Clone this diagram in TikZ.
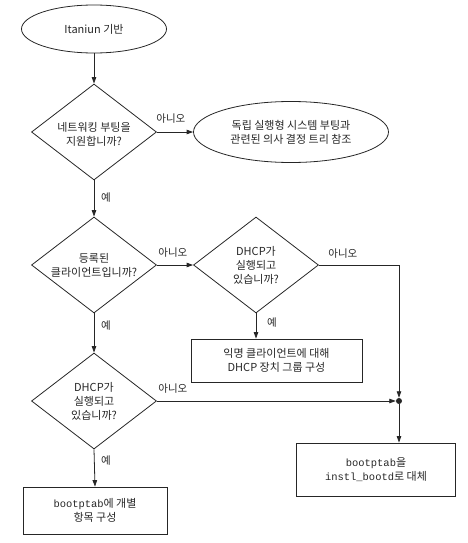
\documentclass[tikz,border=0pt]{standalone}
\usepackage{fontspec}
\setmainfont{Noto Sans CJK KR}
\newfontfamily\codefont[Scale=0.95]{Liberation Mono}
\usetikzlibrary{shapes.geometric,arrows.meta,calc}
\tikzset{
  lc/.style={draw=black!85, line width=0.8pt},
  flow/.style={lc, -{Triangle[length=6.5pt,width=4.5pt]}},
  oval/.style={lc, ellipse, inner sep=0pt, align=center},
  dia/.style={lc, diamond, minimum width=125pt, minimum height=96pt, inner sep=0pt},
  dtext/.style={align=center, inner sep=0pt},
  stepbox/.style={lc, rectangle, inner sep=0pt, align=center},
  lbl/.style={inner sep=0pt, font=\fontsize{10.5}{12}\selectfont},
}
\begin{document}
\begin{tikzpicture}[x=1pt, y=-1pt, font=\fontsize{11}{14}\selectfont, text=black!85]
\useasboundingbox (0,0) rectangle (467,543);

\node[oval, minimum width=145pt, minimum height=48pt] (e1) at (94,29) {Itaniun 기반};
\node[dia] (d1) at (94,132) {};
\node[dtext] (d1t) at (94,134) {네트워킹 부팅을\\지원합니까?};
\node[oval, minimum width=195pt, minimum height=61pt] (e2) at (291,132) {독립 실행형 시스템 부팅과\\관련된 의사 결정 트리 참조};

\node[dia] (d2) at (94,265) {};
\node[dtext] (d2t) at (94,265) {등록된\\클라이언트입니까?};
\node[dia] (d3) at (256,265) {};
\node[dtext] (d3t) at (256,265) {DHCP가\\실행되고\\있습니까?};

\node[stepbox, minimum width=171pt, minimum height=43pt] (b1) at (276.5,360.5) {익명 클라이언트에 대해\\DHCP 장치 그룹 구성};

\node[dia] (d4) at (94,401) {};
\node[dtext] (d4t) at (94,401) {DHCP가\\실행되고\\있습니까?};

\node[circle, fill=black!85, inner sep=0pt, minimum size=6pt] (dot) at (399,401) {};

\node[stepbox, minimum width=159pt, minimum height=53pt] (b3) at (376,469.5) {{\codefont bootptab}을\\{\codefont instl\_bootd}로 대체};
\node[stepbox, minimum width=144pt, minimum height=47pt] (b2) at (95,510.5) {{\codefont bootptab}에 개별\\항목 구성};

% connectors
\draw[flow] (e1) -- (d1);
\draw[flow] (d1.east) -- (e2.west);
\draw[flow] (d1.south) -- (d2.north);
\draw[flow] (d2.east) -- (d3.west);
\draw[flow] (d2.south) -- (d4.north);
\draw[flow] (d3.south) -- (d3.south |- b1.north);
\draw[flow] (d3.east) -| (dot.north);
\draw[flow] (d4.east) -- (dot.west);
\draw[flow] (dot.south) -- (dot.south |- b3.north);
\draw[flow] (d4.south) -- (b2.north);

% labels
\node[lbl] (l1) at ($(d1.east)+(14,-13)$) {아니오};
\node[lbl] (l2) at ($(d1.south)+(12,17)$) {예};
\node[lbl] (l3) at ($(d2.east)+(16,-12)$) {아니오};
\node[lbl] (l4) at ($(d3.east)+(24,-11)$) {아니오};
\node[lbl] (l5) at ($(d3.south)+(16,9)$) {예};
\node[lbl] (l6) at ($(d2.south)+(12,12)$) {예};
\node[lbl] (l7) at ($(d4.east)+(16,-12)$) {아니오};
\node[lbl] (l8) at ($(d4.south)+(12,11)$) {예};
\end{tikzpicture}
\end{document}
